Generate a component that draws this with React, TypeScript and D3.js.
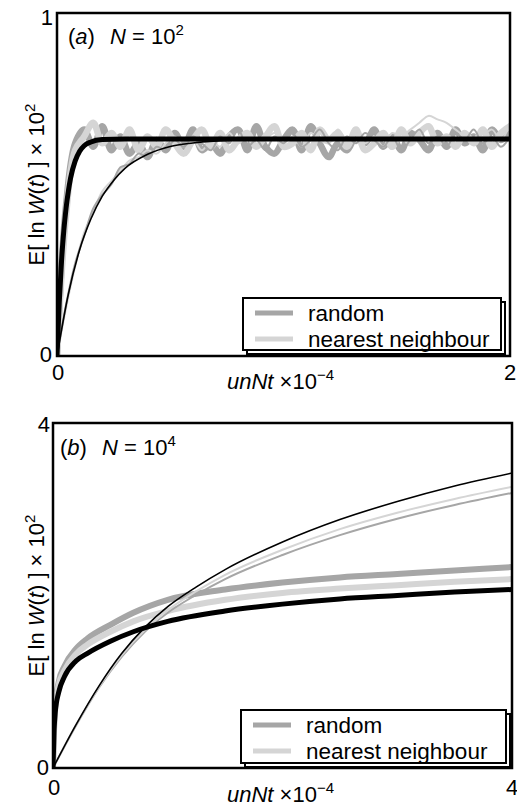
import React from 'react';
import * as d3 from 'd3';

// ---------- data ----------
// panel (a), N = 10^2 : noisy simulation series sampled on a regular grid in unNt x 1e-4
const gridA = d3.range(0, 2.0001, 0.04);
const randThickA = [0, 0.44, 0.62, 0.66, 0.61, 0.67, 0.60, 0.64, 0.59, 0.62,
  0.58, 0.63, 0.60, 0.65, 0.61, 0.66, 0.60, 0.62, 0.59, 0.64,
  0.66, 0.60, 0.67, 0.61, 0.59, 0.63, 0.66, 0.60, 0.67, 0.62,
  0.58, 0.62, 0.60, 0.64, 0.62, 0.66, 0.61, 0.64, 0.60, 0.65,
  0.63, 0.60, 0.65, 0.61, 0.66, 0.62, 0.64, 0.60, 0.66, 0.63,
  0.65];
const nnThickA = [0, 0.41, 0.60, 0.64, 0.68, 0.62, 0.65, 0.61, 0.66, 0.60,
  0.64, 0.61, 0.66, 0.62, 0.59, 0.63, 0.66, 0.61, 0.65, 0.60,
  0.63, 0.65, 0.61, 0.64, 0.67, 0.61, 0.62, 0.65, 0.60, 0.66,
  0.63, 0.65, 0.61, 0.66, 0.60, 0.62, 0.65, 0.61, 0.66, 0.62,
  0.65, 0.67, 0.62, 0.64, 0.61, 0.65, 0.62, 0.66, 0.61, 0.65,
  0.67];
const randThinA = [0, 0.15, 0.27, 0.35, 0.43, 0.47, 0.50, 0.55, 0.56, 0.59,
  0.58, 0.61, 0.60, 0.63, 0.61, 0.64, 0.62, 0.60, 0.64, 0.62,
  0.66, 0.61, 0.63, 0.60, 0.64, 0.62, 0.65, 0.61, 0.63, 0.66,
  0.62, 0.60, 0.64, 0.62, 0.65, 0.63, 0.61, 0.64, 0.60, 0.63,
  0.66, 0.62, 0.64, 0.61, 0.65, 0.63, 0.66, 0.62, 0.64, 0.61,
  0.64];
const nnThinA = [0, 0.14, 0.26, 0.36, 0.42, 0.48, 0.51, 0.54, 0.57, 0.58,
  0.60, 0.59, 0.62, 0.64, 0.61, 0.63, 0.60, 0.63, 0.61, 0.65,
  0.62, 0.64, 0.61, 0.63, 0.65, 0.62, 0.64, 0.61, 0.65, 0.63,
  0.62, 0.66, 0.63, 0.65, 0.62, 0.64, 0.61, 0.65, 0.64, 0.66,
  0.68, 0.70, 0.69, 0.68, 0.66, 0.64, 0.62, 0.64, 0.66, 0.63,
  0.68];
// panel (a) theory curves
const fastXA = [0, 0.01, 0.02, 0.03, 0.04, 0.05, 0.06, 0.08, 0.1, 0.12, 0.15, 0.2, 0.3, 0.5, 2];
const fastYA = [0, 0.157, 0.277, 0.365, 0.431, 0.48, 0.519, 0.568, 0.597, 0.613, 0.624, 0.631, 0.633, 0.633, 0.633];
const slowXA = [0, 0.05, 0.1, 0.15, 0.2, 0.25, 0.3, 0.4, 0.5, 0.6, 0.8, 1.0, 1.5, 2];
const slowYA = [0, 0.18, 0.31, 0.40, 0.466, 0.512, 0.547, 0.588, 0.611, 0.621, 0.630, 0.632, 0.633, 0.633];

// panel (b), N = 10^4
const thickXB = [0, 0.01, 0.02, 0.05, 0.1, 0.2, 0.3, 0.5, 0.7, 1.0, 1.5, 2, 2.5, 3, 3.5, 4];
const blackThickB = [0, 0.45, 0.65, 0.88, 1.06, 1.24, 1.33, 1.47, 1.58, 1.70, 1.82, 1.90, 1.96, 2.00, 2.04, 2.07];
const randThickB = [0, 0.50, 0.72, 1.00, 1.18, 1.38, 1.50, 1.66, 1.80, 1.95, 2.07, 2.15, 2.21, 2.25, 2.29, 2.33];
const nnThickB = [0, 0.48, 0.70, 0.96, 1.13, 1.32, 1.43, 1.58, 1.70, 1.82, 1.95, 2.03, 2.08, 2.12, 2.16, 2.19];
const thinXB = [0, 0.2, 0.4, 0.6, 0.8, 1.0, 1.25, 1.5, 2, 2.5, 3, 3.5, 4];
const blackThinB = [0, 0.50, 0.95, 1.33, 1.63, 1.87, 2.10, 2.30, 2.62, 2.88, 3.09, 3.27, 3.42];
const nnThinB = [0, 0.50, 0.94, 1.31, 1.60, 1.83, 2.05, 2.24, 2.53, 2.77, 2.96, 3.12, 3.26];
const randThinB = [0, 0.49, 0.93, 1.29, 1.58, 1.80, 2.01, 2.19, 2.47, 2.70, 2.89, 3.05, 3.19];

const legendLabels = ['random', 'nearest neighbour'];

// ---------- styles ----------
const FONT = "'Liberation Sans', Arial, Helvetica, sans-serif";
const RAND = '#a6a6a6';
const NN = '#d5d5d5';
const FS = 22;

type Series = { xs: number[]; ys: number[]; color: string; width: number; noisy?: boolean };

function Panel(props: {
  id: string; left: number; top: number; right: number; bottom: number;
  xMax: number; yMax: number; series: Series[]; label: string; nExp: string;
  legend: { x0: number; y0: number; x1: number; y1: number };
  yTickX: number; yTopBase: number; yZeroBase: number; xTickBase: number; xLabelBase: number;
  labelX: number; labelN: number; labelBase: number;
}) {
  const p = props;
  const x = d3.scaleLinear().domain([0, p.xMax]).range([p.left, p.right]);
  const y = d3.scaleLinear().domain([0, p.yMax]).range([p.bottom, p.top]);
  const cy = (p.top + p.bottom) / 2;
  const lg = p.legend;
  return (
    <g>
      <defs>
        <clipPath id={'clip' + p.id}>
          <rect x={p.left} y={p.top} width={p.right - p.left} height={p.bottom - p.top} />
        </clipPath>
      </defs>
      <g clipPath={`url(#clip${p.id})`}>
        {p.series.map((s, i) => {
          const pts = s.xs.map((xv, j) => [xv, s.ys[j]] as [number, number]);
          const line = d3.line<[number, number]>()
            .x(d => x(d[0])).y(d => y(d[1]))
            .curve(s.noisy ? d3.curveCatmullRom : d3.curveMonotoneX);
          return <path key={i} d={line(pts) || ''} fill="none" stroke={s.color}
            strokeWidth={s.width} strokeLinejoin="round" strokeLinecap="round" />;
        })}
      </g>
      <rect x={p.left} y={p.top} width={p.right - p.left} height={p.bottom - p.top}
        fill="none" stroke="#000" strokeWidth={2.5} />
      {/* legend */}
      <rect x={lg.x0 + 4} y={lg.y0 + 4} width={lg.x1 - lg.x0} height={lg.y1 - lg.y0} fill="none" stroke="#000" strokeWidth={2} />
      <rect x={lg.x0} y={lg.y0} width={lg.x1 - lg.x0} height={lg.y1 - lg.y0} fill="#fff" stroke="#000" strokeWidth={2} />
      {legendLabels.map((t, i) => {
        const ly = lg.y0 + 15 + i * 26;
        return (
          <g key={t}>
            <line x1={lg.x0 + 12} x2={lg.x0 + 50} y1={ly} y2={ly} stroke={i === 0 ? RAND : NN} strokeWidth={5} />
            <text x={lg.x0 + 65} y={ly + 8} fontSize={22.5} fontFamily={FONT}>{t}</text>
          </g>
        );
      })}
      {/* ticks */}
      <text x={p.yTickX} y={p.yTopBase} fontSize={FS} fontFamily={FONT} textAnchor="end">{p.yMax}</text>
      <text x={p.yTickX - 1} y={p.yZeroBase} fontSize={FS} fontFamily={FONT} textAnchor="end">0</text>
      <text x={x(0) + 1} y={p.xTickBase} fontSize={FS} fontFamily={FONT} textAnchor="middle">0</text>
      <text x={x(p.xMax)} y={p.xTickBase} fontSize={FS} fontFamily={FONT} textAnchor="middle">{p.xMax}</text>
      {/* x label */}
      <text x={227} y={p.xLabelBase} fontSize={FS} fontFamily={FONT}>
        <tspan fontStyle="italic">unNt</tspan>
        <tspan> ×10</tspan>
        <tspan dy={-9} fontSize={15}>−4</tspan>
      </text>
      {/* y label */}
      <text transform={`translate(44,${cy}) rotate(-90)`} fontSize={FS} fontFamily={FONT} textAnchor="middle">
        <tspan>E[ ln </tspan>
        <tspan fontStyle="italic">W</tspan>
        <tspan>(</tspan>
        <tspan fontStyle="italic">t</tspan>
        <tspan>) ] × 10</tspan>
        <tspan dy={-9} fontSize={15}>2</tspan>
      </text>
      {/* panel label */}
      <text x={p.labelX} y={p.labelBase} fontSize={FS} fontFamily={FONT}>
        <tspan>(</tspan><tspan fontStyle="italic">{p.label}</tspan><tspan>)</tspan>
      </text>
      <text x={p.labelN} y={p.labelBase} fontSize={FS} fontFamily={FONT}>
        <tspan fontStyle="italic">N</tspan>
        <tspan> = 10</tspan>
        <tspan dy={-9} fontSize={15}>{p.nExp}</tspan>
      </text>
    </g>
  );
}

export default function App() {
  const seriesA: Series[] = [
    { xs: gridA, ys: randThickA, color: RAND, width: 6.5, noisy: true },
    { xs: gridA, ys: nnThickA, color: NN, width: 6.5, noisy: true },
    { xs: gridA, ys: nnThinA, color: NN, width: 2, noisy: true },
    { xs: gridA, ys: randThinA, color: RAND, width: 2, noisy: true },
    { xs: fastXA, ys: fastYA, color: '#000', width: 5 },
    { xs: slowXA, ys: slowYA, color: '#000', width: 1.6 },
  ];
  const seriesB: Series[] = [
    { xs: thickXB, ys: randThickB, color: RAND, width: 6 },
    { xs: thickXB, ys: nnThickB, color: NN, width: 6 },
    { xs: thinXB, ys: randThinB, color: RAND, width: 2 },
    { xs: thinXB, ys: nnThinB, color: NN, width: 2 },
    { xs: thickXB, ys: blackThickB, color: '#000', width: 5 },
    { xs: thinXB, ys: blackThinB, color: '#000', width: 1.6 },
  ];
  return (
    <svg width={517} height={810} style={{ position: 'absolute', left: 0, top: 0, background: '#fff' }}>
      <rect width={517} height={810} fill="#fff" />
      <Panel id="a" left={57} top={13} right={510} bottom={356} xMax={2} yMax={1}
        series={seriesA} label="a" nExp="2"
        legend={{ x0: 243, y0: 298, x1: 501, y1: 350 }}
        yTickX={53} yTopBase={25} yZeroBase={362} xTickBase={380} xLabelBase={389}
        labelX={68} labelN={110} labelBase={44} />
      <Panel id="b" left={53} top={423} right={512} bottom={768} xMax={4} yMax={4}
        series={seriesB} label="b" nExp="4"
        legend={{ x0: 241, y0: 710, x1: 506, y1: 763 }}
        yTickX={50} yTopBase={432} yZeroBase={775} xTickBase={795} xLabelBase={802}
        labelX={60} labelN={102} labelBase={455} />
    </svg>
  );
}
